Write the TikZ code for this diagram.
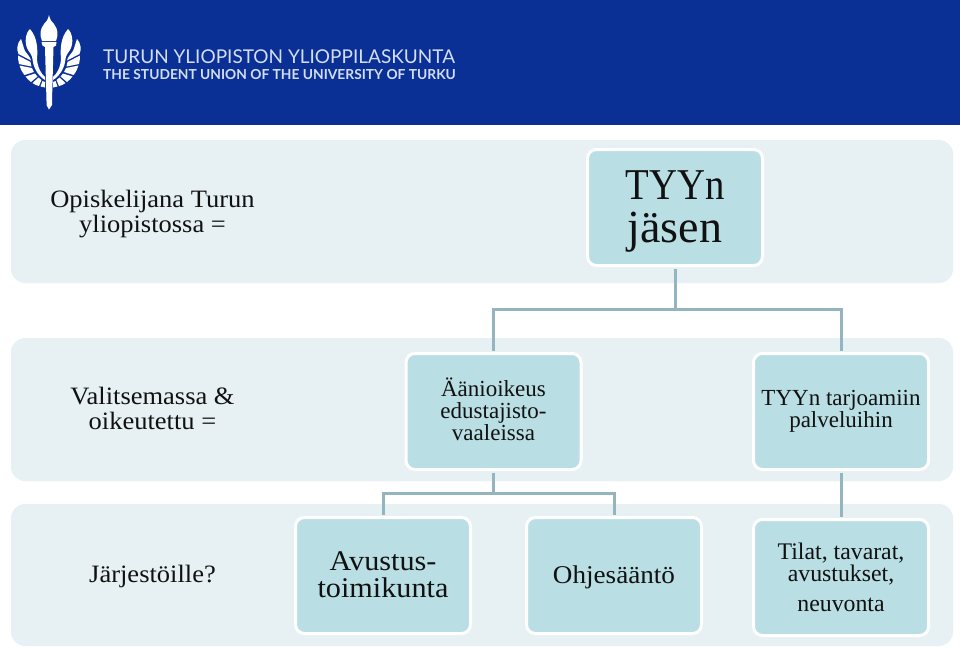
\documentclass[tikz,border=0pt]{standalone}
\usepackage{fontspec}
\setmainfont{Liberation Serif}
\newfontfamily\wideserif[FakeStretch=1.06]{Liberation Serif}
\newfontfamily\tightserif[FakeStretch=0.88]{Liberation Serif}
\newfontfamily\logofont{Lato}
\definecolor{hdr}{HTML}{0A3096}
\definecolor{band}{HTML}{E7F1F4}
\definecolor{boxc}{HTML}{B9DEE3}
\definecolor{conn}{HTML}{94B5BF}
\definecolor{logot}{HTML}{D3DEF5}
\definecolor{ink}{HTML}{111111}
\tikzset{
  x=1pt,y=1pt,
  bandbox/.style={fill=band,draw=none,rounded corners=14pt},
  card/.style={fill=boxc,draw=white,line width=3pt,rounded corners=9pt,minimum width=175pt,minimum height=116pt,inner sep=0pt},
  words/.style={align=center,text=ink,inner sep=0pt},
  side/.style={words,font=\wideserif\fontsize{25}{25}\selectfont},
  mid/.style={words,font=\fontsize{23}{22}\selectfont},
  big/.style={words,font=\wideserif\fontsize{28.5}{27}\selectfont},
  huge/.style={words,font=\fontsize{46}{43}\selectfont},
  link/.style={draw=conn,line width=3pt,shorten <=1.5pt,shorten >=1.5pt},
  logofill/.style={fill=white,draw=none},
  logotxt/.style={anchor=base west,inner sep=0pt,text=logot},
}
\newcommand{\wingfeathers}{%
  % top feather running into the inner arc
  \fill[logofill] (30,29) .. controls (25.5,33) and (24,43) .. (28,50) .. controls (30,53) and (32,55) .. (32.5,59) .. controls (33,67) and (38,76) .. (45,80) -- (45,77) .. controls (41,74) and (37.5,67) .. (37,59) .. controls (38,48) and (37,37) .. (30,29) -- cycle;
  \fill[logofill] (21,39) .. controls (17,43) and (16.5,50) .. (18.5,54) -- (31,60.5) .. controls (30,56) and (27,54.5) .. (25,51) .. controls (23.5,47.5) and (22.5,43) .. (21,39) -- cycle;
  \fill[logofill] (18,55.5) -- (30.5,62) -- (31.5,66.5) -- (19,64) .. controls (18.3,61) and (18,58) .. (18,55.5) -- cycle;
  \fill[logofill] (19.5,65.5) -- (32,68) -- (34,72) -- (24.5,75) .. controls (22,72) and (20.5,69) .. (19.5,65.5) -- cycle;
  \fill[logofill] (25.5,76.5) -- (35,73.5) -- (37.5,76.5) -- (31,82) .. controls (29,80.5) and (27,78.5) .. (25.5,76.5) -- cycle;
  \fill[logofill] (32.5,83) -- (38.5,77.5) -- (41.5,80) -- (39,86) .. controls (36.5,85.5) and (34.5,84.5) .. (32.5,83) -- cycle;
  \fill[logofill] (40.5,86.5) -- (42.5,81) -- (45,82) -- (45,87.5) -- cycle;
}
\begin{document}
\begin{tikzpicture}
\useasboundingbox (0,0) rectangle (960,-651);
\fill[white] (0,0) rectangle (960,-651);
\fill[hdr] (0,0) rectangle (960,-125);
% logo
\begin{scope}[y=-1pt]
  \wingfeathers
  \begin{scope}[xshift=98pt,xscale=-1]\wingfeathers\end{scope}
  \fill[logofill] (49,15) .. controls (50,20) and (52,22) .. (54,24) .. controls (58,29) and (58.5,35) .. (56,41) -- (42,41) .. controls (39.5,35) and (40,29) .. (44,24) .. controls (46,22) and (48,20) .. (49,15) -- cycle;
  \fill[logofill] (41.5,42) -- (56.5,42) -- (56,45.5) -- (53.5,47) -- (52,101) -- (52,105) -- (49,109.5) -- (46.5,105) -- (46.5,101) -- (45,47) -- (42.5,45.5) -- cycle;
\end{scope}
\node[logotxt,font=\logofont\fontsize{19}{20}\selectfont] (logoa) at (103,-63) {TURUN YLIOPISTON YLIOPPILASKUNTA};
\node[logotxt,font=\logofont\bfseries\fontsize{13.8}{14}\selectfont] (logob) at (103,-79.5) {THE STUDENT UNION OF THE UNIVERSITY OF TURKU};
% bands
\fill[bandbox] (11,-140) rectangle (953,-283);
\fill[bandbox] (11,-338) rectangle (953,-481);
\fill[bandbox] (11,-504) rectangle (953,-646);
% side labels
\node[side] (s1) at (152.5,-214) {Opiskelijana Turun\\yliopistossa =};
\node[side] (s2) at (152.5,-408) {Valitsemassa \&\\oikeutettu =};
\node[side] (s3) at (152.5,-576) {Järjestöille?};
% cards
\node[card] (top) at (675,-207.5) {};
\node[card] (a) at (493.5,-411.5) {};
\node[card] (b) at (841,-411.5) {};
\node[card] (c) at (383,-575.5) {};
\node[card] (d) at (614,-575.5) {};
\node[card] (e) at (841,-577.5) {};
% card texts
\node[huge] (toptext) at (675,-211) {{\tightserif\fontsize{44}{43}\selectfont TYYn}\\jäsen};
\node[mid] (atext) at (493.5,-409.5) {Äänioikeus\\edustajisto-\\vaaleissa};
\node[mid] (btext) at (841,-411.5) {TYYn tarjoamiin\\palveluihin};
\node[big] (ctext) at (383,-575) {Avustus-\\toimikunta};
\node[words,font=\wideserif\fontsize{25.6}{26}\selectfont] (dtext) at (614,-577) {Ohjesääntö};
\node[words,font=\fontsize{23.8}{22}\selectfont] (etext) at (841,-577) {Tilat, tavarat,\\avustukset,\\[8pt]neuvonta};
% connectors
\coordinate (j1) at (675,-309);
\coordinate (j2) at (493.5,-493);
\draw[link,shorten >=0pt] (top.south) -- (j1);
\draw[link,shorten >=0pt] (a.north) |- (j1);
\draw[link,shorten >=0pt] (b.north) |- (j1);
\draw[link,shorten >=0pt] (a.south) -- (j2);
\draw[link,shorten >=0pt] (c.north) |- (j2);
\draw[link,shorten >=0pt] (d.north) |- (j2);
\draw[link] (b.south) -- (e.north);
\end{tikzpicture}
\end{document}
